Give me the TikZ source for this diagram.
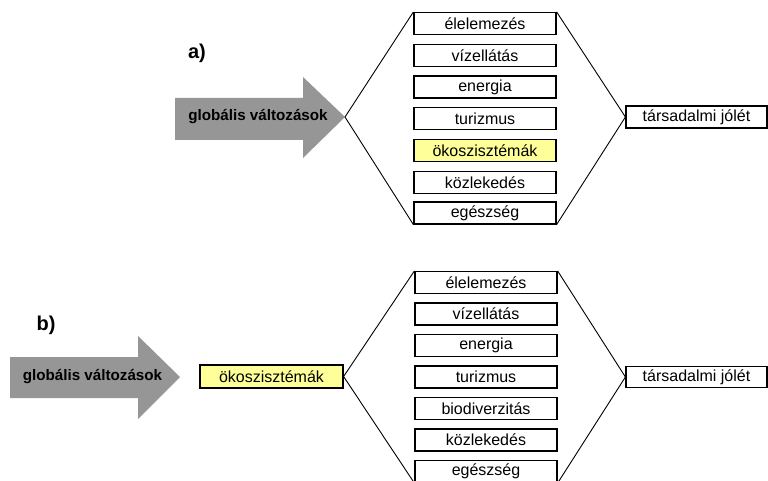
\documentclass[tikz,border=0pt]{standalone}
\usepackage{fontspec}
\setmainfont{Liberation Sans}
\definecolor{arrowgray}{RGB}{150,150,150}
\definecolor{ecoyellow}{RGB}{255,255,153}
\begin{document}
\begin{tikzpicture}[x=1pt,y=-1pt,
  box/.style={draw=black, line width=1.2pt, fill=white, minimum width=142pt, minimum height=22pt, inner sep=0pt, font=\fontsize{16}{18}\selectfont},
  ecobox/.style={box, fill=ecoyellow},
  conn/.style={draw=black, line width=0.9pt},
  bigarrow/.style={fill=arrowgray, draw=none},
  arrowtext/.style={font=\fontsize{15.2}{17}\selectfont\bfseries, inner sep=0pt},
  partlabel/.style={font=\fontsize{20}{22}\selectfont\bfseries, inner sep=0pt}]
\clip (0,0) rectangle (768,481);
\fill[white] (0,0) rectangle (768,481);

% ---------- part a ----------
\node[partlabel] (la) at (197,53) {a)};
\path[bigarrow] (175,98) -- (303,98) -- (303,77) -- (345,117) -- (303,158) -- (303,140) -- (175,140) -- cycle;
\coordinate (tipa) at (345,117);
\node[arrowtext] (ga) at (258,117) {globális változások};

\node[box]    (a1) at (485,23.5)  {élelemezés};
\node[box]    (a2) at (485,55.25) {vízellátás};
\node[box]    (a3) at (485,87)    {energia};
\node[box]    (a4) at (485,118.75){turizmus};
\node[ecobox] (a5) at (485,150.5) {ökoszisztémák};
\node[box]    (a6) at (485,182.25){közlekedés};
\node[box]    (a7) at (485,213)   {egészség};
\node[box, minimum width=141pt] (ta) at (696.5,117) {társadalmi jólét};

\draw[conn] (a1.north west) -- (tipa) -- (a7.south west);
\draw[conn] (a1.north east) -- (ta.west) -- (a7.south east);

% ---------- part b ----------
\node[partlabel] (lb) at (46,325) {b)};
\path[bigarrow] (10,357) -- (138,357) -- (138,336) -- (180,377) -- (138,419) -- (138,398) -- (10,398) -- cycle;
\node[arrowtext] (gb) at (92.5,377) {globális változások};
\node[ecobox, minimum width=143pt, minimum height=23pt] (ob) at (271.5,376.5) {ökoszisztémák};

\node[box] (b1) at (486,282.5) {élelemezés};
\node[box] (b2) at (486,314)   {vízellátás};
\node[box] (b3) at (486,345.5) {energia};
\node[box] (b4) at (486,377)   {turizmus};
\node[box] (b5) at (486,408.5) {biodiverzitás};
\node[box] (b6) at (486,440)   {közlekedés};
\node[box] (b7) at (486,471.5) {egészség};
\node[box, minimum width=141pt, minimum height=21pt] (tb) at (696.5,377) {társadalmi jólét};

\draw[conn] (b1.north west) -- (ob.east) -- (b7.south west);
\draw[conn] (b1.north east) -- (tb.west) -- (b7.south east);
\end{tikzpicture}
\end{document}
